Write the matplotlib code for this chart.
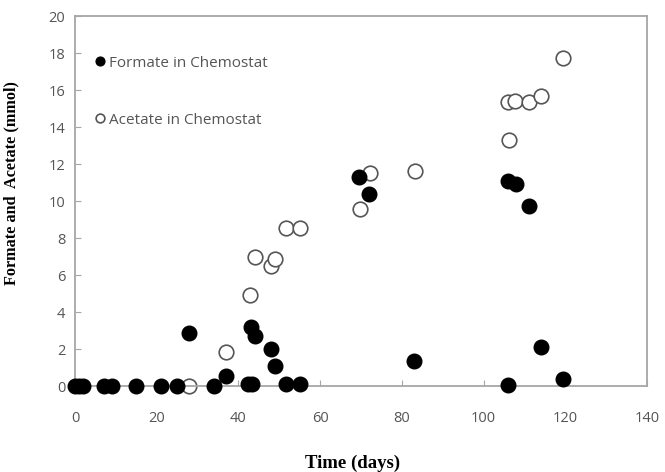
import matplotlib
matplotlib.use('Agg')
import matplotlib.pyplot as plt
import matplotlib.ticker as pltticker

# formate in chemostat (filled)
formate_day = [0, 1, 2, 7, 9, 15, 21, 25, 28, 34, 37, 42.4, 43.2, 43, 44, 48, 49, 51.6, 55,
               69.5, 72, 83, 106, 106, 108, 111, 114, 119.5]
formate_mmol = [0, 0, 0, 0, 0, 0, 0, 0, 2.85, 0, 0.55, 0.1, 0.1, 3.2, 2.7, 2.0, 1.08, 0.12, 0.1,
                11.3, 10.4, 1.35, 0.05, 11.1, 10.9, 9.75, 2.1, 0.38]

# acetate in chemostat (open)
acetate_day = [28, 37, 42.8, 44, 48, 49, 51.6, 55, 69.8, 72.2, 83.2, 106.2, 106, 107.6, 111, 114, 119.5]
acetate_mmol = [0, 1.85, 4.9, 7.0, 6.5, 6.85, 8.55, 8.55, 9.55, 11.5, 11.6, 13.3, 15.35, 15.4,
                15.35, 15.7, 17.75]

xticks = [0, 20, 40, 60, 80, 100, 120, 140]
yticks = [0, 2, 4, 6, 8, 10, 12, 14, 16, 18, 20]

fig = plt.figure(figsize=(6.65, 4.72), dpi=100)
ax = fig.add_axes([0.1128, 0.182, 0.8602, 0.784])

ax.plot(formate_day, formate_mmol, 'o', color='black', markersize=10.5, linestyle='none',
        label='Formate in Chemostat', clip_on=False, zorder=3)
ax.plot(acetate_day, acetate_mmol, 'o', markerfacecolor='white', markeredgecolor='#555555',
        markeredgewidth=1.2, markersize=10.5, linestyle='none', label='Acetate in Chemostat',
        clip_on=False, zorder=2)

ax.set_xlim(0, 140)
ax.set_ylim(0, 20)
ax.xaxis.set_major_locator(pltticker.FixedLocator(xticks))
ax.yaxis.set_major_locator(pltticker.FixedLocator(yticks))

for s in ax.spines.values():
    s.set_color('#a6a6a6')
    s.set_linewidth(1.3)

ax.tick_params(axis='x', direction='in', length=4, color='#a6a6a6', pad=18,
               labelsize=10.5, labelcolor='#555555')
ax.tick_params(axis='y', direction='in', length=4, color='#a6a6a6', pad=7,
               labelsize=10.5, labelcolor='#555555')
for lbl in ax.get_xticklabels() + ax.get_yticklabels():
    lbl.set_family('Open Sans')

ax.set_xlabel('Time (days)', fontsize=13.5, fontweight='bold', family='Liberation Serif')
ax.xaxis.set_label_coords(0.486, -0.186)
ax.set_ylabel('Formate and  Acetate (mmol)', fontsize=11.7, fontweight='bold',
              family='Liberation Serif')
ax.yaxis.set_label_coords(-0.098, 0.549)

leg = ax.legend(loc='upper left', bbox_to_anchor=(0.012, 0.93), frameon=False, markerscale=0.6,
                handlelength=0.55, handletextpad=0.3, labelspacing=2.75,
                prop={'family': 'Open Sans', 'size': 11})
for t in leg.get_texts():
    t.set_color('#555555')

fig.savefig('out.png', dpi=100)
